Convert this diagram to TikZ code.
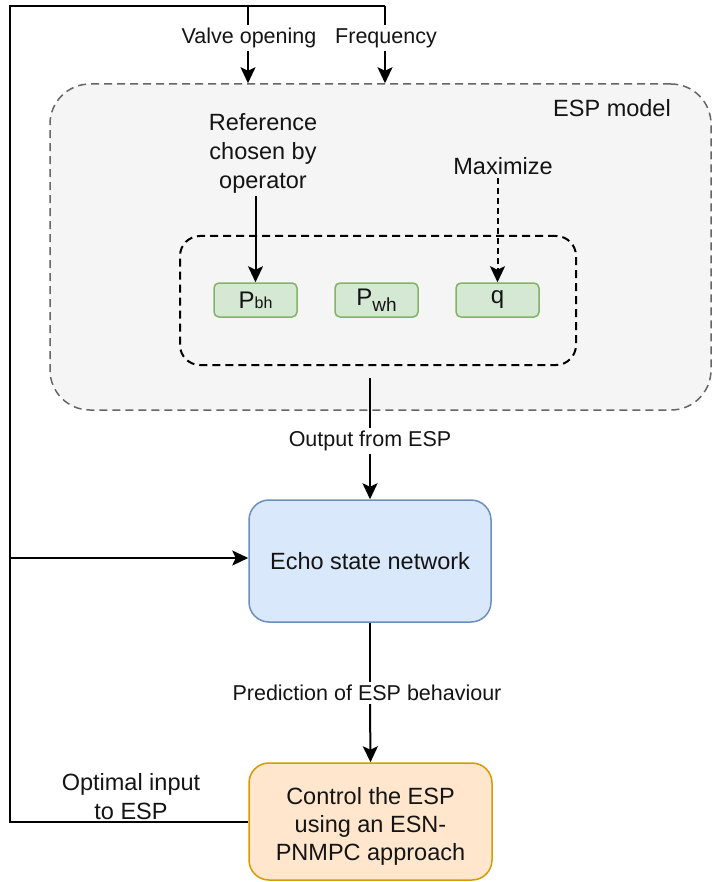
\documentclass[tikz,border=0pt]{standalone}
\usepackage{fontspec}
\setmainfont{Liberation Sans}
\usetikzlibrary{arrows.meta,positioning}

\definecolor{modelfill}{HTML}{F5F5F5}
\definecolor{modeldraw}{HTML}{666666}
\definecolor{greenfill}{HTML}{D5E8D4}
\definecolor{greendraw}{HTML}{82B366}
\definecolor{bluefill}{HTML}{DAE8FC}
\definecolor{bluedraw}{HTML}{6C8EBF}
\definecolor{orangefill}{HTML}{FFE6CC}
\definecolor{orangedraw}{HTML}{D79B00}
\definecolor{ink}{HTML}{141414}

\tikzset{
  bigtext/.style={font=\fontsize{23.5}{29}\selectfont, text=ink, align=center},
  lbltext/.style={font=\fontsize{21.5}{26}\selectfont, text=ink, fill=white, inner sep=3pt},
  varbox/.style={draw=greendraw, fill=greenfill, line width=1.5pt, rounded corners=5pt,
    minimum width=83pt, minimum height=34pt, inner sep=0pt,
    font=\fontsize{24}{28}\selectfont, text=ink},
  procbox/.style={line width=1.5pt, rounded corners=20pt, inner sep=0pt,
    font=\fontsize{23.5}{28}\selectfont, text=ink, align=center},
  longdash/.style={dash pattern=on 8pt off 5pt},
  wire/.style={line width=2pt, draw=black},
  arr/.style={wire, -{Stealth[length=16pt,width=15pt,inset=3.5pt]}},
}

\begin{document}
\begin{tikzpicture}[x=1pt,y=-1pt]
  \clip (0,0) rectangle (712,882);
  \useasboundingbox (0,0) rectangle (712,882);
  \fill[white] (0,0) rectangle (712,882);

  % ESP model container and the group of measured variables
  \node[draw=modeldraw, fill=modelfill, longdash, line width=1.5pt, rounded corners=40pt,
        minimum width=661pt, minimum height=326pt, inner sep=0pt] (model) at (380.5,247) {};
  \node[draw=black, longdash, line width=2pt, rounded corners=20pt,
        minimum width=396pt, minimum height=129pt, inner sep=0pt] (group) at (378,300.5) {};

  \node[bigtext] (modelname) at (612,108) {ESP model};
  \node[bigtext] (ref) at (263,153) {Reference\\chosen by\\operator};
  \node[bigtext] (max) at (503,166) {Maximize};

  \node[varbox] (pbh) at (255.5,300) {P{\fontsize{16}{16}\selectfont bh}};
  \node[varbox] (pwh) at (376.5,300) {P\raisebox{-6pt}{\fontsize{19}{19}\selectfont wh}};
  \node[varbox] (q) at (497.5,300) {q};

  % processing blocks
  \node[procbox, draw=bluedraw, fill=bluefill, minimum width=242pt, minimum height=122pt]
        (esn) at (370,561) {Echo state network};
  \node[procbox, draw=orangedraw, fill=orangefill, minimum width=243pt, minimum height=117pt,
        label={[procbox, yshift=-5pt]center:{Control the ESP\\using an ESN-\\PNMPC approach}}]
        (ctrl) at (370.5,821.5) {};

  % connector labels
  \node[lbltext] (valve) at (249,38) {Valve opening};
  \node[lbltext] (freq) at (386,38) {Frequency};
  \node[lbltext] (outlbl) at (370,441) {Output from ESP};
  \node[lbltext] (predlbl) at (367,693) {Prediction of ESP behaviour};
  \node[bigtext] (optlbl) at (131,797) {Optimal input\\to ESP};

  % feedback loop from the controller back to the ESP inputs
  \coordinate (bl) at (10,821.5);
  \coordinate (tl) at (10,6);
  \coordinate (vtop) at (248,6);
  \coordinate (ftop) at (385,6);
  \coordinate (split) at (10,558);
  \draw[wire] (ctrl.west) -- (bl) -- (tl) -- (ftop);
  \draw[wire] (vtop) -- (vtop |- valve.north);
  \draw[arr] (vtop |- valve.south) -- (vtop |- model.north);
  \draw[wire] (ftop) -- (ftop |- freq.north);
  \draw[arr] (ftop |- freq.south) -- (ftop |- model.north);
  \draw[arr] (split) -- (split -| esn.west);

  % reference and objective inside the model
  \draw[arr] (pbh.north |- ref.south) -- (pbh.north);
  \draw[arr, dash pattern=on 6pt off 4pt] (q.north |- max.south) -- (q.north);

  % main signal path
  \coordinate (modelout) at (370,378);
  \draw[wire] (modelout) -- (outlbl.north -| modelout);
  \draw[arr] (outlbl.south -| modelout) -- (esn.north);
  \draw[wire] (esn.south) -- (predlbl.north -| esn.south);
  \draw[arr] (predlbl.south -| esn.south) -- (ctrl.north);
\end{tikzpicture}
\end{document}
